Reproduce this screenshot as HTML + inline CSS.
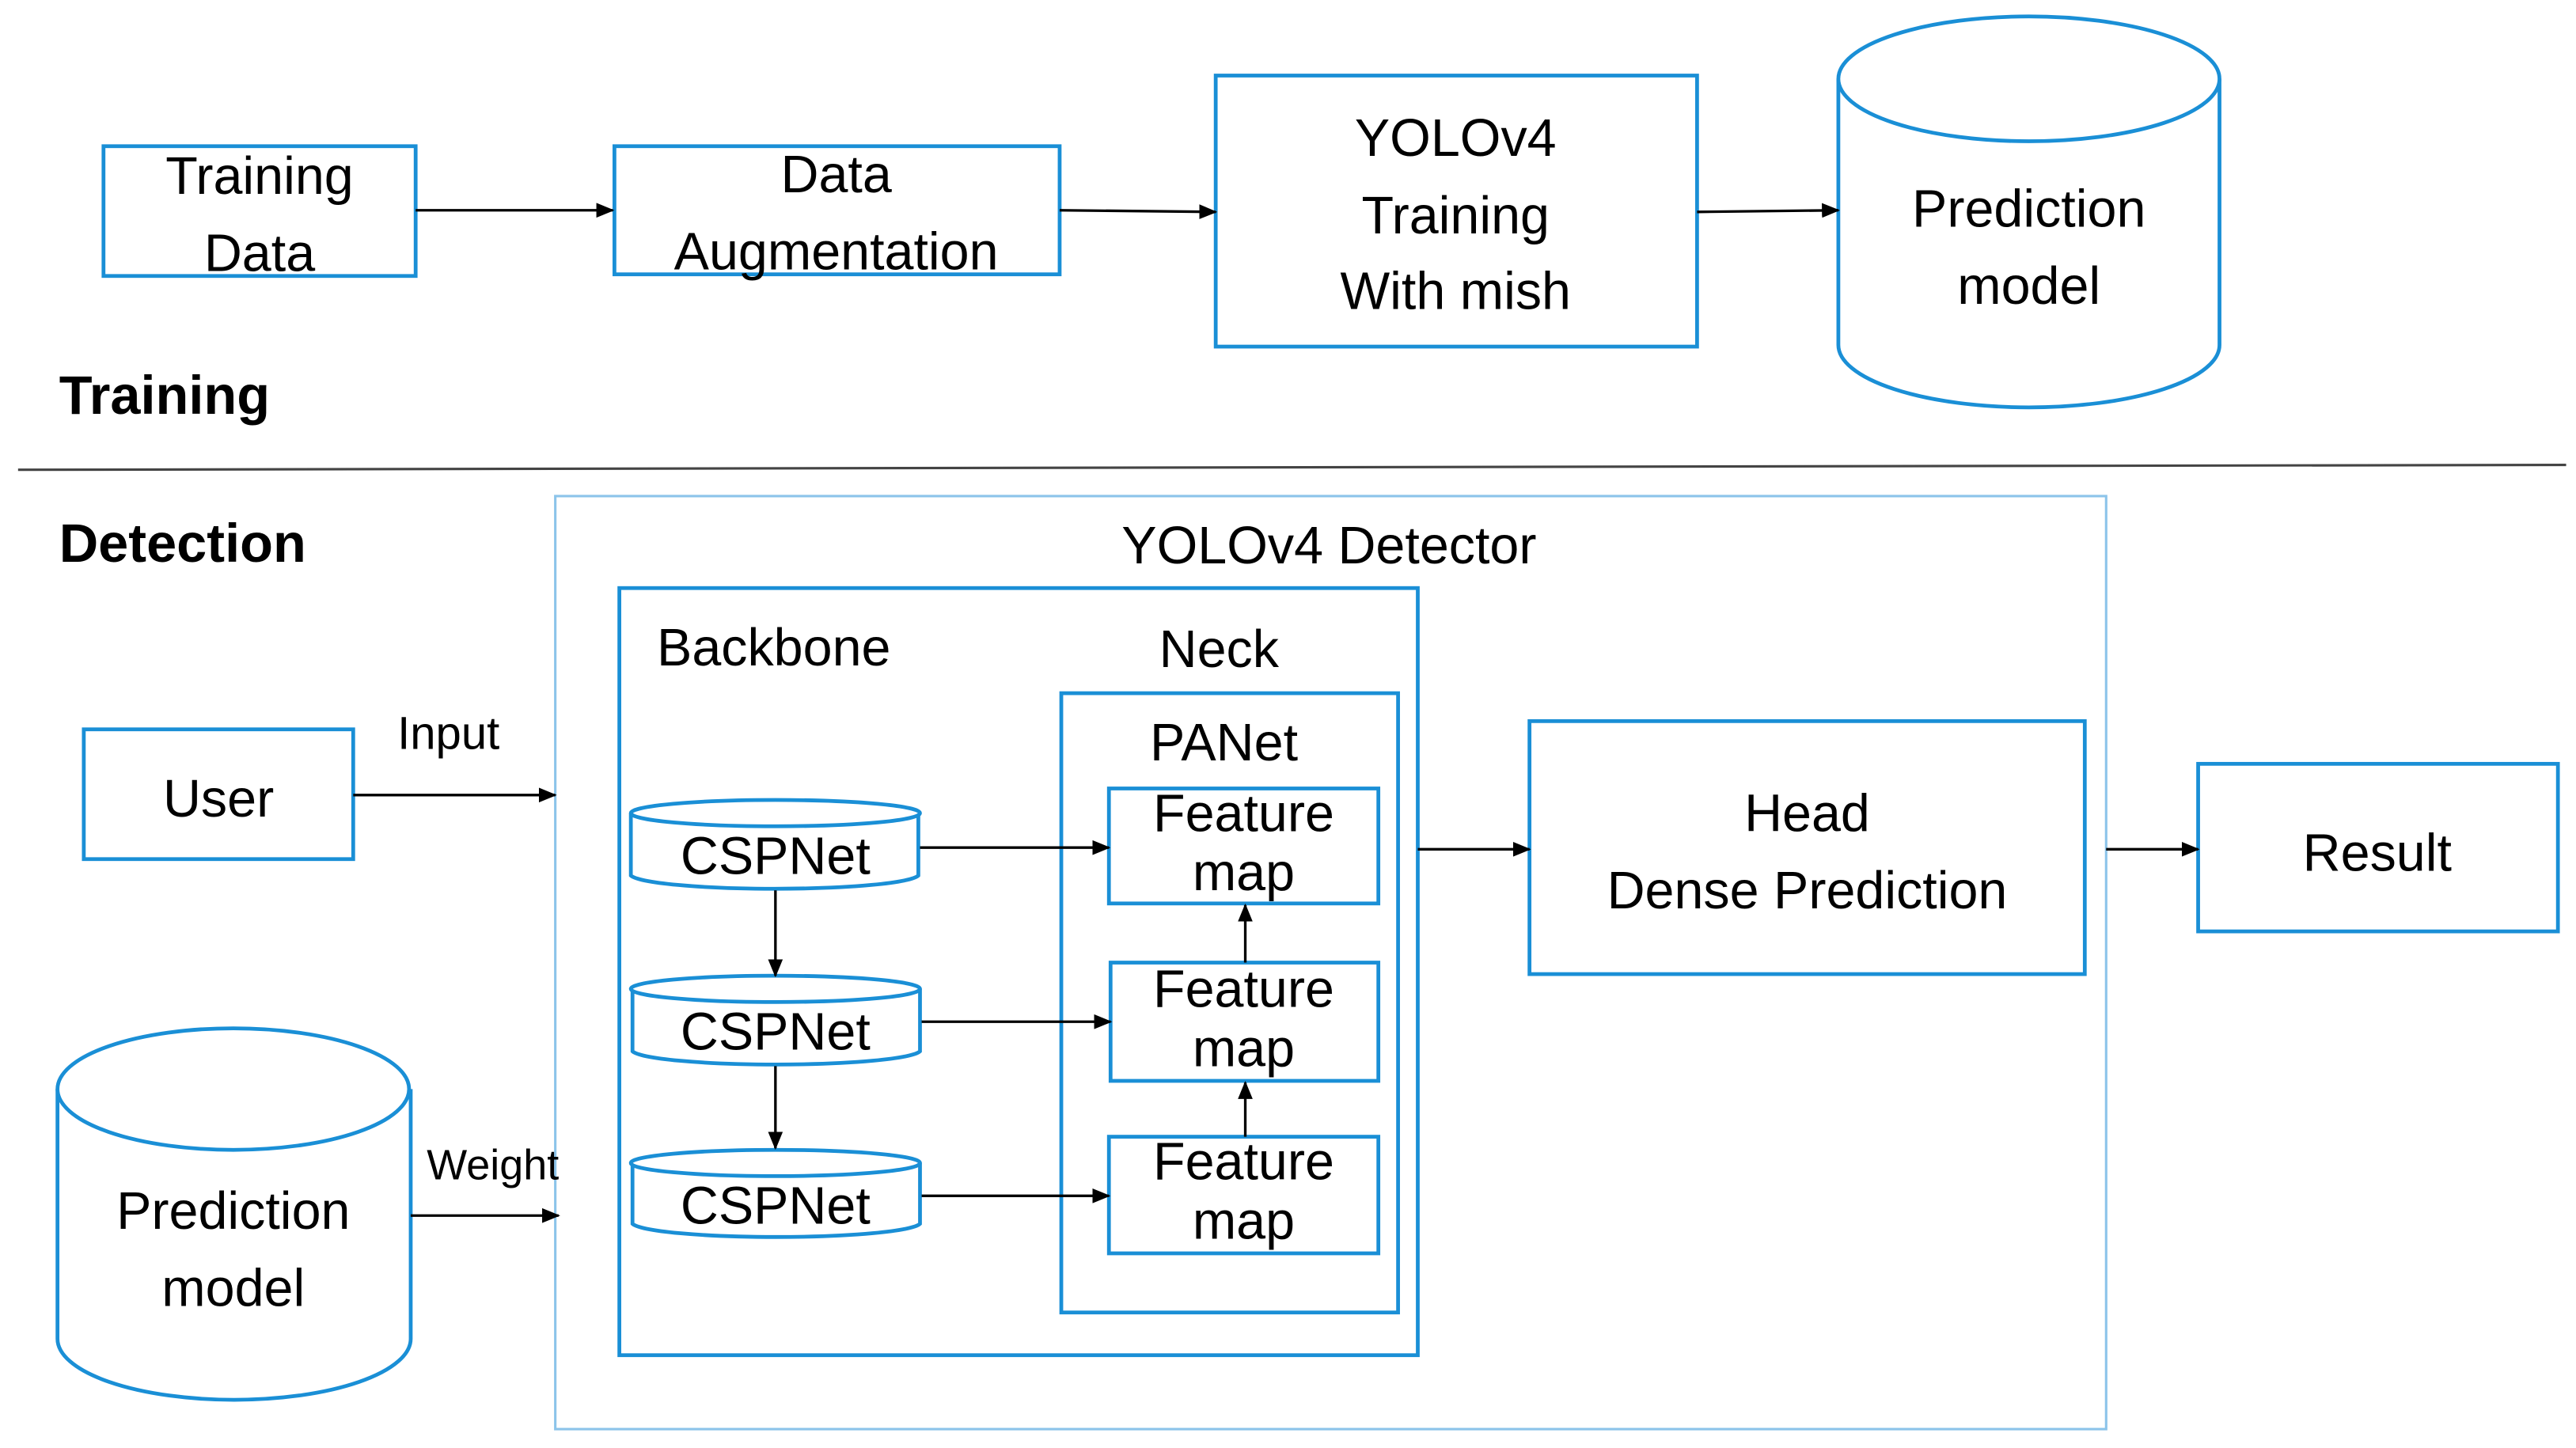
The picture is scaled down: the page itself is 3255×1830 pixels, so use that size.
<!DOCTYPE html>
<html><head><meta charset="utf-8"><style>html,body{margin:0;padding:0;background:#fff}svg{display:block}</style></head>
<body>
<svg width="3255" height="1830" viewBox="0 0 1568 881.5" preserveAspectRatio="none" xmlns="http://www.w3.org/2000/svg" font-family="Liberation Sans, sans-serif" fill="#000">
<defs><marker id="a" markerWidth="11" markerHeight="9" refX="10" refY="4.5" orient="auto" markerUnits="userSpaceOnUse"><path d="M0,0 L11,4.5 L0,9 z" fill="#000"/></marker></defs>
<g fill="#fff" stroke="#1a8fd6" stroke-width="2.3">
<rect x="63" y="89" width="190" height="79"/>
<rect x="374" y="89" width="271" height="78"/>
<rect x="740" y="46" width="293" height="165"/>
<path d="M1119,48 V210 A116,38 0 0 0 1351,210 V48"/>
<ellipse cx="1235" cy="48" rx="116" ry="38"/>
<rect x="338" y="302" width="944" height="568" stroke="#8cc4ea" stroke-width="1.5"/>
<rect x="377" y="358" width="486" height="467"/>
<rect x="646" y="422" width="205" height="377"/>
<rect x="675" y="480" width="164" height="70"/>
<rect x="676" y="586" width="163" height="72"/>
<rect x="675" y="692" width="164" height="71"/>
<path d="M384,495 V533 A88,9 0 0 0 559,533 V495"/><ellipse cx="472" cy="495" rx="88" ry="8"/>
<path d="M385,602 V640 A88,9 0 0 0 560,640 V602"/><ellipse cx="472" cy="602" rx="88" ry="8"/>
<path d="M385,708 V745 A88,9 0 0 0 560,745 V708"/><ellipse cx="472" cy="708" rx="88" ry="8"/>
<rect x="51" y="444" width="164" height="79"/>
<path d="M35,663 V815 A107,37 0 0 0 250,815 V663"/>
<ellipse cx="142" cy="663" rx="107" ry="37"/>
<rect x="931" y="439" width="338" height="154"/>
<rect x="1338" y="465" width="219" height="102"/>
</g>
<line x1="11" y1="286" x2="1562" y2="283" stroke="#444" stroke-width="1.5"/>
<g stroke="#000" stroke-width="1.6" marker-end="url(#a)">
<line x1="253" y1="128" x2="373" y2="128"/>
<line x1="645" y1="128" x2="740" y2="129"/>
<line x1="1033" y1="129" x2="1119" y2="128"/>
<line x1="560" y1="516" x2="675" y2="516"/>
<line x1="561" y1="622" x2="676" y2="622"/>
<line x1="561" y1="728" x2="675" y2="728"/>
<line x1="472" y1="542" x2="472" y2="594"/>
<line x1="472" y1="649" x2="472" y2="699"/>
<line x1="758" y1="586" x2="758" y2="551"/>
<line x1="758" y1="692" x2="758" y2="659"/>
<line x1="215" y1="484" x2="338" y2="484"/>
<line x1="250" y1="740" x2="340" y2="740"/>
<line x1="863" y1="517" x2="931" y2="517"/>
<line x1="1282" y1="517" x2="1338" y2="517"/>
</g>
<g font-size="32" text-anchor="middle">
<text x="158" y="118">Training</text><text x="158" y="165">Data</text>
<text x="509" y="117">Data</text><text x="509" y="164">Augmentation</text>
<text x="886" y="95">YOLOv4</text><text x="886" y="142">Training</text><text x="886" y="188">With mish</text>
<text x="1235" y="138">Prediction</text><text x="1235" y="185">model</text>
<text x="809" y="343">YOLOv4 Detector</text>
<text x="742" y="406">Neck</text>
<text x="745" y="463">PANet</text>
<text x="757" y="506">Feature</text><text x="757" y="542">map</text>
<text x="757" y="613">Feature</text><text x="757" y="649">map</text>
<text x="757" y="718">Feature</text><text x="757" y="754">map</text>
<text x="472" y="532">CSPNet</text><text x="472" y="639">CSPNet</text><text x="472" y="745">CSPNet</text>
<text x="133" y="497">User</text>
<text x="142" y="748">Prediction</text><text x="142" y="795">model</text>
<text x="1100" y="506">Head</text><text x="1100" y="553">Dense Prediction</text>
<text x="1447" y="530">Result</text>
<text x="471" y="405">Backbone</text>
<text x="273" y="456" font-size="28">Input</text>
<text x="300" y="718" font-size="26">Weight</text>
</g>
<g font-size="33" font-weight="bold">
<text x="36" y="252">Training</text>
<text x="36" y="342">Detection</text>
</g>
</svg>
</body></html>
